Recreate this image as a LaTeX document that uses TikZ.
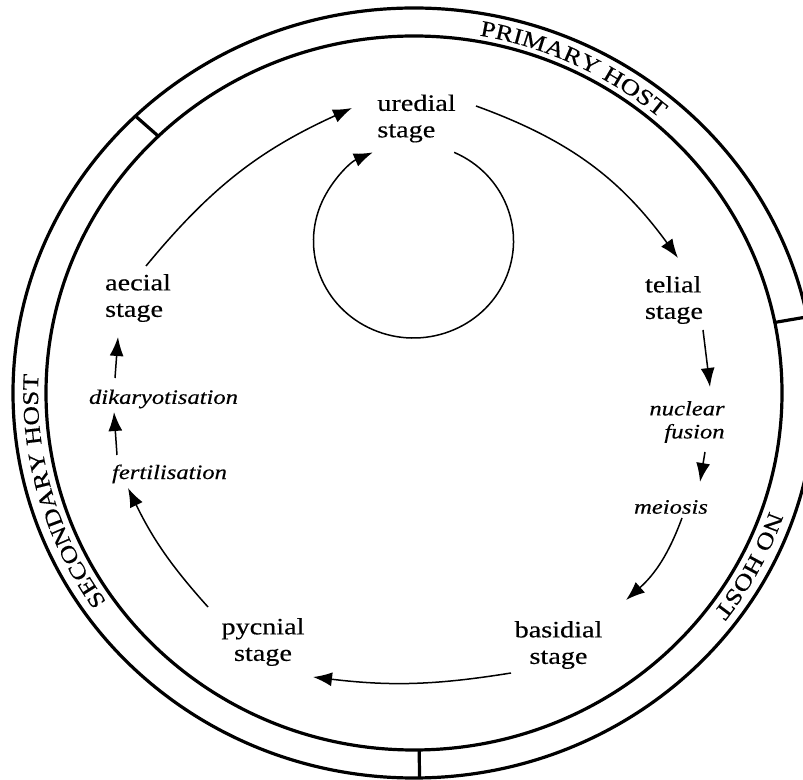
\documentclass[tikz,border=0pt]{standalone}
\usepackage{fontspec}
\newfontfamily\figfont{Liberation Serif}[FakeStretch=1.2, FakeBold=0.4]
\usetikzlibrary{arrows.meta,decorations.text}

\begin{document}
\begin{tikzpicture}[
   x=1pt, y=1pt,
   stage/.style={font=\figfont\fontsize{23.5}{26.5}\selectfont, inner sep=2pt},
   event/.style={font=\figfont\itshape\fontsize{20.5}{23}\selectfont, inner sep=2pt},
   arrow/.style={-{Latex[length=19pt,width=14pt]}, line width=1.5pt},
   ring/.style={line width=3.2pt},
   hostlabel/.style={decorate, decoration={text along path, text align=center,
      text={|\figfont\fontsize{22.5}{25}\selectfont|#1}}}
]
\useasboundingbox (0,0) rectangle (803,779);
\clip (0,0) rectangle (803,779);

% Host ring
\coordinate (c) at (414,386);
\draw[ring] (c) ellipse [x radius=401, y radius=385];
\draw[ring] (c) ellipse [x radius=368, y radius=357];
\foreach \a in {134,11.4,270.8}
   \draw[ring] ([shift={(\a:368 and 357)}]c) -- ([shift={(\a:401 and 385)}]c);
\path[hostlabel=PRIMARY HOST] ([shift={(92:376 and 363)}]c)
   arc[start angle=92, end angle=37, x radius=376, y radius=363];
\path[hostlabel=SECONDARY HOST] ([shift={(225:376 and 363)}]c)
   arc[start angle=225, end angle=167, x radius=376, y radius=363];
\path[hostlabel=NO HOST] ([shift={(-9:376 and 363)}]c)
   arc[start angle=-9, end angle=-47, x radius=376, y radius=363];

% Nodes
\node[stage, align=left] (uredial) at (416.5,660.5) {uredial\\stage};
\node[stage, align=left] (telial) at (674,479) {telial\\stage};
\node[event, align=right] (fusion) at (687,357) {nuclear\\fusion};
\node[event] (meiosis) at (671,272) {meiosis};
\node[stage, align=center] (basidial) at (558.5,134) {basidial\\stage};
\node[stage, align=center] (pycnial) at (263,137) {pycnial\\stage};
\node[event] (fert) at (169.5,305) {fertilisation};
\node[event] (dikar) at (163.5,380) {dikaryotisation};
\node[stage, align=left] (aecial) at (138,481) {aecial\\stage};
\coordinate (loopc) at (413.5,538);

% Edges
\draw[arrow] ([shift={(59.5,12.5)}]uredial.center) to[bend left=17] ([shift={(4,42)}]telial.center);
\draw[arrow] ([shift={(66:100 and 97)}]loopc) arc[start angle=66, end angle=-246, x radius=100, y radius=97];
\draw[arrow] ([shift={(29,-30)}]telial.center) -- ([shift={(23,35)}]fusion.center);
\draw[arrow] ([shift={(18,-30)}]fusion.center) -- ([shift={(29,25)}]meiosis.center);
\draw[arrow] ([shift={(11,-11)}]meiosis.center) to[bend left=14] ([shift={(67.5,45)}]basidial.center);
\draw[arrow] ([shift={(-47.5,-28)}]basidial.center) to[bend left=8] ([shift={(50,-35)}]pycnial.center);
\draw[arrow] ([shift={(-55,35)}]pycnial.center) to[bend left=8] ([shift={(-41.5,-14)}]fert.center);
\draw[arrow] ([shift={(-52.5,19)}]fert.center) -- ([shift={(-49.5,-13)}]dikar.center);
\draw[arrow] ([shift={(-48.5,21)}]dikar.center) -- ([shift={(-20,-39)}]aecial.center);
\draw[arrow] ([shift={(8,32)}]aecial.center) to[bend left=13] ([shift={(-64.5,10.5)}]uredial.center);

\end{tikzpicture}
\end{document}
